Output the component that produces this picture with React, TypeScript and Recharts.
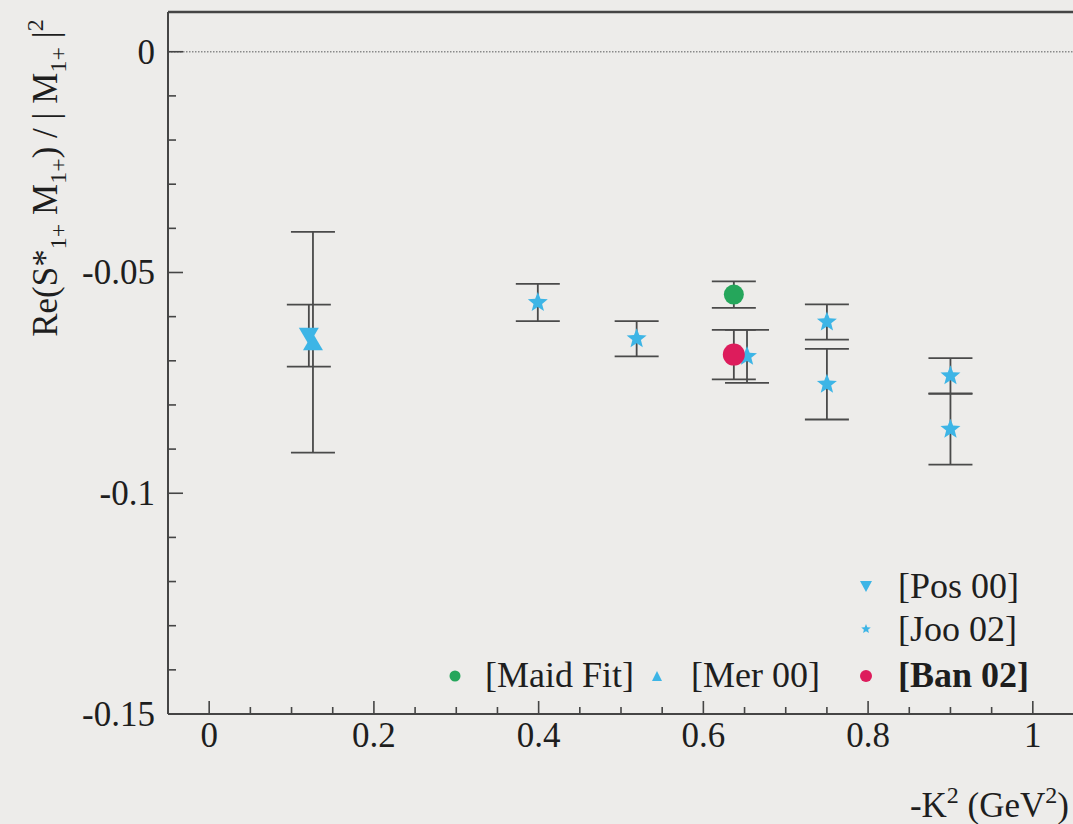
import React from 'react';
import { ScatterChart, Scatter, XAxis, YAxis, ErrorBar, ReferenceLine } from 'recharts';

// -K^2 (GeV^2) positions and Re(S*M)/|M|^2 values with their errors
const posQ2 = [0.121];
const posValues = [-0.0643];
const posErrors = [0.007];

const merQ2 = [0.126];
const merValues = [-0.0658];
const merErrors = [0.025];

const jooQ2 = [0.399, 0.519, 0.653, 0.75, 0.75, 0.9, 0.9];
const jooValues = [-0.0568, -0.065, -0.069, -0.0612, -0.0753, -0.0734, -0.0855];
const jooErrors = [0.0042, 0.004, 0.006, 0.004, 0.008, 0.004, 0.008];

const maidQ2 = [0.637];
const maidValues = [-0.055];
const maidErrors = [0.003];

const banQ2 = [0.637];
const banValues = [-0.0686];
const banErrors = [0.0056];

const xMajorTicks = [0, 0.2, 0.4, 0.6, 0.8, 1];
const xMajorLabels = ['0', '0.2', '0.4', '0.6', '0.8', '1'];
const xMinorTicks = [0.05, 0.1, 0.15, 0.25, 0.3, 0.35, 0.45, 0.5, 0.55, 0.65, 0.7, 0.75, 0.85, 0.9, 0.95];

const yMajorTicks = [0, -0.05, -0.1, -0.15];
const yMajorLabels = ['0', '-0.05', '-0.1', '-0.15'];
const yMinorTicks = [-0.01, -0.02, -0.03, -0.04, -0.06, -0.07, -0.08, -0.09, -0.11, -0.12, -0.13, -0.14];

const X_DOMAIN: [number, number] = [-0.05, 1.05];
const Y_DOMAIN: [number, number] = [-0.15, 0.009];

const build = (xs: number[], ys: number[], es: number[]) =>
  xs.map((x, i) => ({ x, y: ys[i], err: es[i] }));

const posData = build(posQ2, posValues, posErrors);
const merData = build(merQ2, merValues, merErrors);
const jooData = build(jooQ2, jooValues, jooErrors);
const maidData = build(maidQ2, maidValues, maidErrors);
const banData = build(banQ2, banValues, banErrors);

const SERIF = "'Liberation Serif', 'Times New Roman', serif";
const AXIS = '#454545';
const TEXT = '#1e1e1e';
const CYAN = '#3db5e6';
const GREEN = '#25a65b';
const RED = '#dd1c5c';
const BG = '#edecea';

const starPoints = (cx: number, cy: number, ro: number, ri: number) => {
  const pts: string[] = [];
  for (let k = 0; k < 10; k++) {
    const r = k % 2 === 0 ? ro : ri;
    const a = -Math.PI / 2 + (k * Math.PI) / 5;
    pts.push(`${cx + r * Math.cos(a)},${cy + r * Math.sin(a)}`);
  }
  return pts.join(' ');
};

const StarShape = (props: any) => (
  <polygon points={starPoints(props.cx, props.cy, 10.5, 4.5)} fill={CYAN} />
);

const DownTri = (props: any) => {
  const { cx, cy } = props;
  return <polygon points={`${cx - 10},${cy - 8} ${cx + 10},${cy - 8} ${cx},${cy + 9}`} fill={CYAN} />;
};

const UpTri = (props: any) => {
  const { cx, cy } = props;
  return <polygon points={`${cx - 10},${cy + 8} ${cx + 10},${cy + 8} ${cx},${cy - 9}`} fill={CYAN} />;
};

const GreenDot = (props: any) => <circle cx={props.cx} cy={props.cy} r={10} fill={GREEN} />;
const RedDot = (props: any) => <circle cx={props.cx} cy={props.cy} r={11} fill={RED} />;

const isIn = (list: number[], v: number) => list.findIndex((t) => Math.abs(t - v) < 1e-9);

const XTick = (props: any) => {
  const { x, y, payload } = props;
  const idx = isIn(xMajorTicks, payload.value);
  const major = idx >= 0;
  return (
    <g>
      <line x1={x} y1={y} x2={x} y2={y - (major ? 13 : 7)} stroke={AXIS} strokeWidth={1.6} />
      {major && (
        <text x={x} y={y + 33} textAnchor="middle" fontFamily={SERIF} fontSize={35} fill={TEXT}>
          {xMajorLabels[idx]}
        </text>
      )}
    </g>
  );
};

const YTick = (props: any) => {
  const { x, y, payload } = props;
  const idx = isIn(yMajorTicks, payload.value);
  const major = idx >= 0;
  return (
    <g>
      <line x1={x} y1={y} x2={x + (major ? 15 : 8)} y2={y} stroke={AXIS} strokeWidth={1.6} />
      {major && (
        <text x={x - 13} y={y + 12} textAnchor="end" fontFamily={SERIF} fontSize={35} fill={TEXT}>
          {yMajorLabels[idx]}
        </text>
      )}
    </g>
  );
};

const barProps = { dataKey: 'err', direction: 'y' as const, width: 22, stroke: '#4a4a4a', strokeWidth: 1.8, isAnimationActive: false };

const Overlay = () => (
  <svg width={1073} height={824} style={{ position: 'absolute', left: 0, top: 0, pointerEvents: 'none' }}>
    {/* y-axis title */}
    <text
      transform="translate(57,178) rotate(-90)"
      textAnchor="middle"
      fontFamily={SERIF}
      fontSize={35}
      fill={TEXT}
    >
      Re(S*
      <tspan fontSize={24} dy={9}>1+</tspan>
      <tspan dy={-9}> M</tspan>
      <tspan fontSize={24} dy={9}>1+</tspan>
      <tspan dy={-9}>) / | M</tspan>
      <tspan fontSize={24} dy={9}>1+</tspan>
      <tspan dy={-9}> |</tspan>
      <tspan fontSize={24} dy={-14}>2</tspan>
    </text>
    {/* x-axis title */}
    <text x={1069} y={817} textAnchor="end" fontFamily={SERIF} fontSize={35} fill={TEXT}>
      -K
      <tspan fontSize={24} dy={-14}>2</tspan>
      <tspan dy={14}> (GeV</tspan>
      <tspan fontSize={24} dy={-14}>2</tspan>
      <tspan dy={14}>)</tspan>
    </text>
    {/* legend */}
    <polygon points="860,581 872,581 866,592" fill={CYAN} />
    <text x={898} y={598} fontFamily={SERIF} fontSize={36} fill={TEXT}>[Pos 00]</text>
    <polygon points={starPoints(866, 629, 5, 2.2)} fill={CYAN} />
    <text x={898} y={641} fontFamily={SERIF} fontSize={36} fill={TEXT}>[Joo 02]</text>
    <circle cx={455} cy={676} r={5.5} fill={GREEN} />
    <text x={485} y={687} fontFamily={SERIF} fontSize={36} fill={TEXT}>[Maid Fit]</text>
    <polygon points="652,681 662,681 657,671" fill={CYAN} />
    <text x={691} y={687} fontFamily={SERIF} fontSize={36} fill={TEXT}>[Mer 00]</text>
    <circle cx={866} cy={676} r={6} fill={RED} />
    <text x={898} y={687} fontFamily={SERIF} fontSize={36} fontWeight="bold" fill={TEXT}>[Ban 02]</text>
  </svg>
);

export default function App() {
  return (
    <div style={{ position: 'absolute', left: 0, top: 0, width: 1073, height: 824, overflow: 'hidden', background: BG }}>
      <ScatterChart width={1080} height={824} margin={{ top: 12, right: 6, bottom: 70, left: 108 }}>
        <XAxis
          type="number"
          dataKey="x"
          domain={X_DOMAIN}
          allowDataOverflow
          ticks={[...xMajorTicks, ...xMinorTicks].sort((a, b) => a - b)}
          interval={0}
          tickSize={0}
          tickMargin={0}
          tickLine={false}
          tick={<XTick />}
          axisLine={{ stroke: AXIS, strokeWidth: 2 }}
          height={40}
        />
        <YAxis
          type="number"
          dataKey="y"
          domain={Y_DOMAIN}
          allowDataOverflow
          ticks={[...yMajorTicks, ...yMinorTicks].sort((a, b) => a - b)}
          interval={0}
          tickSize={0}
          tickMargin={0}
          tickLine={false}
          tick={<YTick />}
          axisLine={{ stroke: AXIS, strokeWidth: 2 }}
          width={60}
        />
        <ReferenceLine y={Y_DOMAIN[1]} stroke={AXIS} strokeWidth={2.5} />
        <ReferenceLine y={0} stroke="#8a8a8a" strokeWidth={1.5} strokeDasharray="1.5 1.5" />
        <Scatter data={merData} shape={<UpTri />} isAnimationActive={false}>
          <ErrorBar {...barProps} />
        </Scatter>
        <Scatter data={posData} shape={<DownTri />} isAnimationActive={false}>
          <ErrorBar {...barProps} />
        </Scatter>
        <Scatter data={jooData} shape={<StarShape />} isAnimationActive={false}>
          <ErrorBar {...barProps} />
        </Scatter>
        <Scatter data={maidData} shape={<GreenDot />} isAnimationActive={false}>
          <ErrorBar {...barProps} />
        </Scatter>
        <Scatter data={banData} shape={<RedDot />} isAnimationActive={false}>
          <ErrorBar {...barProps} />
        </Scatter>
      </ScatterChart>
      <Overlay />
    </div>
  );
}
